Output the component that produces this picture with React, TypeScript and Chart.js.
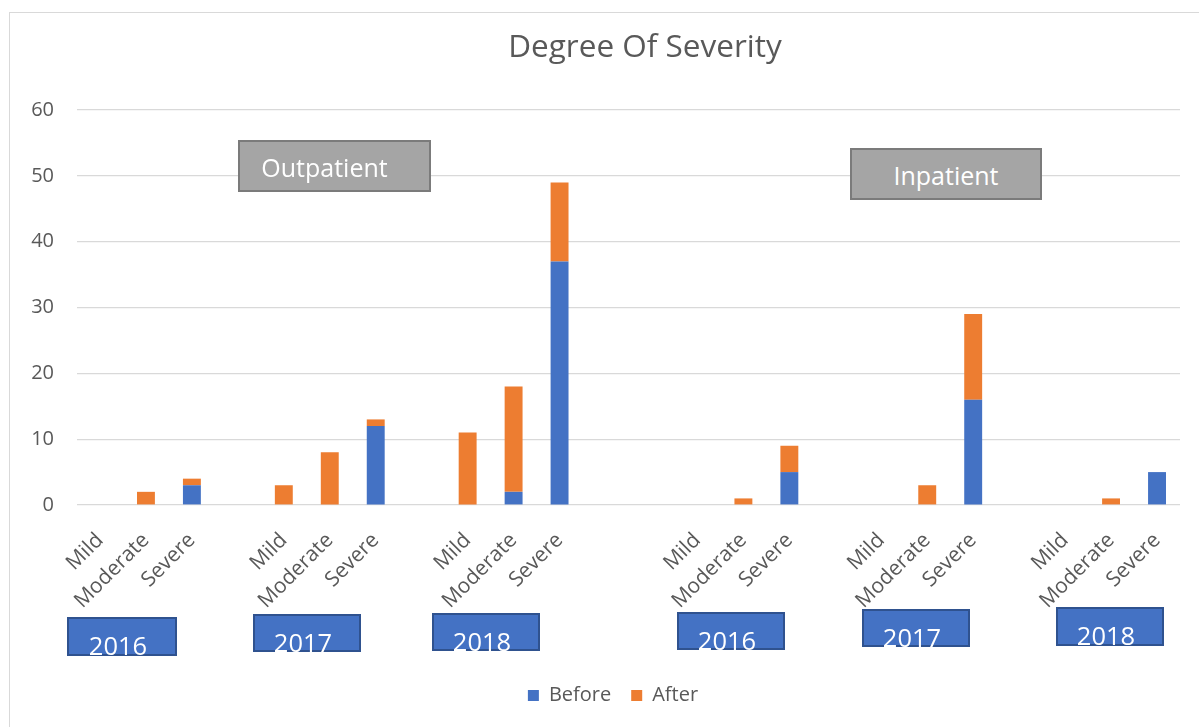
import React, { useEffect, useRef } from "react";
import { Chart, registerables } from "chart.js";

Chart.register(...registerables);

// ---------- data ----------
const categories = [
  "Mild", "Moderate", "Severe", "",
  "Mild", "Moderate", "Severe", "",
  "Mild", "Moderate", "Severe", "", "",
  "Mild", "Moderate", "Severe", "",
  "Mild", "Moderate", "Severe", "",
  "Mild", "Moderate", "Severe",
];
const beforeValues = [
  0, 0, 3, null,
  0, 0, 12, null,
  0, 2, 37, null, null,
  0, 0, 5, null,
  0, 0, 16, null,
  0, 0, 5,
];
const afterValues = [
  0, 2, 1, null,
  3, 8, 1, null,
  11, 16, 12, null, null,
  0, 1, 4, null,
  0, 3, 13, null,
  0, 1, 0,
];
const seriesNames = ["Before", "After"];
const yTickValues = [0, 10, 20, 30, 40, 50, 60];
const chartTitle = "Degree Of Severity";
const settingLabels = ["Outpatient", "Inpatient"];
const yearLabels = ["2016", "2017", "2018", "2016", "2017", "2018"];

// ---------- layout / styles ----------
const FONT = '"Open Sans", "DejaVu Sans", sans-serif';
const TEXT_COLOR = "#595959";
const GRID_COLOR = "#d9d9d9";
const BLUE = "#4472C4";
const ORANGE = "#ED7D31";
const TITLE_X = 645;
const LEGEND_CENTER_X = 613;

const settingBoxes = [
  { left: 238, top: 140, width: 193, height: 52, shift: -10 },
  { left: 850, top: 148, width: 192, height: 52, shift: 0 },
];
const yearBoxes = [
  { left: 67, top: 617, width: 110, height: 39 },
  { left: 253, top: 614, width: 108, height: 38 },
  { left: 432, top: 613, width: 108, height: 38 },
  { left: 677, top: 612, width: 108, height: 38 },
  { left: 862, top: 609, width: 108, height: 38 },
  { left: 1056, top: 607, width: 108, height: 39 },
];

const titlePlugin = {
  id: "freeTitle",
  afterDraw(chart: any) {
    const ctx = chart.ctx;
    ctx.save();
    ctx.font = `31.5px ${FONT}`;
    ctx.fillStyle = TEXT_COLOR;
    ctx.textAlign = "center";
    ctx.textBaseline = "alphabetic";
    ctx.fillText(chartTitle, TITLE_X, 56.5);
    ctx.restore();
  },
};

const legendShiftPlugin = {
  id: "legendShift",
  afterLayout(chart: any) {
    const lg = chart.legend;
    if (!lg) return;
    const shift = LEGEND_CENTER_X - (lg.left + lg.right) / 2;
    lg.left += shift;
    lg.right += shift;
  },
};

export default function App() {
  const canvasRef = useRef<HTMLCanvasElement | null>(null);

  useEffect(() => {
    if (!canvasRef.current) return;
    const chart = new Chart(canvasRef.current, {
      type: "bar",
      data: {
        labels: categories,
        datasets: [
          {
            label: seriesNames[0],
            data: beforeValues,
            backgroundColor: BLUE,
            borderWidth: 0,
            barPercentage: 0.39,
            categoryPercentage: 1,
          },
          {
            label: seriesNames[1],
            data: afterValues,
            backgroundColor: ORANGE,
            borderWidth: 0,
            barPercentage: 0.39,
            categoryPercentage: 1,
          },
        ],
      },
      plugins: [titlePlugin, legendShiftPlugin],
      options: {
        animation: false,
        responsive: false,
        layout: { padding: { left: 20, right: 19, top: 110, bottom: 11.5 } },
        plugins: {
          title: { display: false },
          tooltip: { enabled: false },
          legend: {
            position: "bottom",
            labels: {
              boxWidth: 11,
              boxHeight: 11,
              padding: 20,
              color: TEXT_COLOR,
              font: { family: FONT, size: 20 },
            },
          },
        },
        scales: {
          x: {
            stacked: true,
            grid: { display: false },
            border: { display: false },
            ticks: {
              autoSkip: false,
              minRotation: 45,
              maxRotation: 45,
              padding: 15,
              color: TEXT_COLOR,
              font: { family: FONT, size: 21 },
            },
            afterFit: (s: any) => {
              s.height = 160.5;
            },
          },
          y: {
            stacked: true,
            min: yTickValues[0],
            max: yTickValues[yTickValues.length - 1],
            ticks: {
              stepSize: yTickValues[1] - yTickValues[0],
              padding: 23,
              color: TEXT_COLOR,
              font: { family: FONT, size: 20 },
            },
            grid: { color: GRID_COLOR, drawTicks: false, lineWidth: 1.2 },
            border: { display: false },
            afterFit: (s: any) => {
              s.width = 57;
            },
          },
        },
      },
    });
    return () => chart.destroy();
  }, []);

  return (
    <div style={{ position: "fixed", left: 0, top: 0, width: 1199, height: 727, background: "#fff", overflow: "hidden" }}>
      <div
        style={{
          position: "absolute",
          left: 9,
          top: 12,
          width: 1400,
          height: 900,
          border: `1px solid ${GRID_COLOR}`,
          boxSizing: "border-box",
        }}
      />
      <canvas ref={canvasRef} width={1199} height={727} style={{ position: "absolute", left: 0, top: 0, width: 1199, height: 727 }} />
      {settingBoxes.map((b, i) => (
        <div
          key={"s" + i}
          style={{
            position: "absolute",
            left: b.left,
            top: b.top,
            width: b.width,
            height: b.height,
            background: "#A5A5A5",
            border: "2px solid #7B7B7B",
            boxSizing: "border-box",
          }}
        >
          <div
            style={{
              position: "absolute",
              left: -2,
              top: 12.5,
              width: b.width,
              textAlign: "center",
              transform: `translateX(${b.shift}px)`,
              color: "#fff",
              fontFamily: FONT,
              fontSize: 25,
              lineHeight: "25px",
              whiteSpace: "nowrap",
            }}
          >
            {settingLabels[i]}
          </div>
        </div>
      ))}
      {yearBoxes.map((b, i) => (
        <div
          key={"y" + i}
          style={{
            position: "absolute",
            left: b.left,
            top: b.top,
            width: b.width,
            height: b.height,
            background: BLUE,
            border: "2px solid #2F528F",
            boxSizing: "border-box",
          }}
        >
          <div
            style={{
              position: "absolute",
              left: -2,
              top: 13.6,
              width: b.width,
              textAlign: "center",
              transform: "translateX(-4px)",
              color: "#fff",
              fontFamily: FONT,
              fontSize: 25.5,
              lineHeight: "25.5px",
              whiteSpace: "nowrap",
            }}
          >
            {yearLabels[i]}
          </div>
        </div>
      ))}
    </div>
  );
}
